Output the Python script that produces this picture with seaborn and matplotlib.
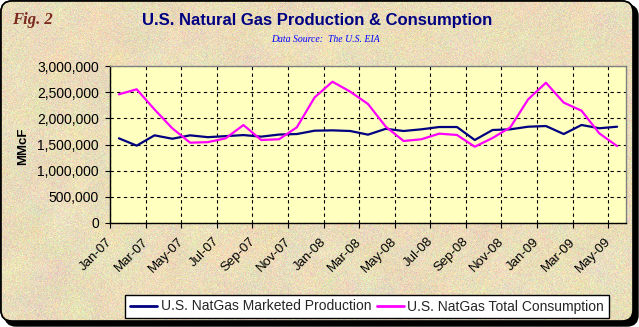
import numpy as np
import pandas as pd
import matplotlib
matplotlib.use("Agg")
import matplotlib.pyplot as plt
import matplotlib.transforms as mtransforms
from matplotlib.patches import FancyBboxPatch
from matplotlib.lines import Line2D
from matplotlib.ticker import FuncFormatter
import seaborn as sns

# Monthly U.S. natural gas figures (MMcF), Jan-07 .. May-09
months = ["Jan-07", "Feb-07", "Mar-07", "Apr-07", "May-07", "Jun-07", "Jul-07", "Aug-07",
          "Sep-07", "Oct-07", "Nov-07", "Dec-07", "Jan-08", "Feb-08", "Mar-08", "Apr-08",
          "May-08", "Jun-08", "Jul-08", "Aug-08", "Sep-08", "Oct-08", "Nov-08", "Dec-08",
          "Jan-09", "Feb-09", "Mar-09", "Apr-09", "May-09"]
production = [1618000, 1478000, 1675000, 1610000, 1675000, 1640000, 1660000, 1680000,
              1650000, 1690000, 1700000, 1764000, 1770000, 1758000, 1688000, 1800000,
              1758000, 1790000, 1834000, 1834000, 1586000, 1777000, 1790000, 1840000,
              1853000, 1700000, 1873000, 1810000, 1840000]
consumption = [2459000, 2555000, 2170000, 1810000, 1535000, 1545000, 1618000, 1872000,
               1586000, 1600000, 1828000, 2400000, 2700000, 2510000, 2274000, 1840000,
               1567000, 1600000, 1707000, 1682000, 1458000, 1624000, 1828000, 2363000,
               2680000, 2300000, 2146000, 1713000, 1470000]
series_names = ["U.S. NatGas Marketed Production", "U.S. NatGas Total Consumption"]
series_colors = ["#000080", "#ff00ff"]
y_ticks = [0, 500000, 1000000, 1500000, 2000000, 2500000, 3000000]

sns.set_theme(style="white")
plt.rcParams['font.family'] = ['Liberation Sans', 'DejaVu Sans']

W, H = 639, 327
fig = plt.figure(figsize=(W / 100, H / 100), dpi=100)
fig.patch.set_facecolor("white")

# ---- card background: shadow, textured fill, rounded border ----
bg = fig.add_axes([0, 0, 1, 1], zorder=0)
bg.set_xlim(0, W)
bg.set_ylim(H, 0)
bg.axis("off")

shadow = FancyBboxPatch((5, 5), 633, 321, boxstyle="round,pad=0,rounding_size=11",
                        fc="black", ec="black", lw=1, zorder=1)
bg.add_patch(shadow)
card = FancyBboxPatch((1, 1), 632, 320, boxstyle="round,pad=0,rounding_size=11",
                      fc="#e8dab8", ec="black", lw=1.2, zorder=2)
bg.add_patch(card)


def upsample(c, h, w):
    ys = np.linspace(0, c.shape[0] - 1, h)
    xs = np.linspace(0, c.shape[1] - 1, w)
    y0 = np.floor(ys).astype(int)
    y1 = np.minimum(y0 + 1, c.shape[0] - 1)
    x0 = np.floor(xs).astype(int)
    x1 = np.minimum(x0 + 1, c.shape[1] - 1)
    wy = (ys - y0)[:, None, None]
    wx = (xs - x0)[None, :, None]
    top = c[y0][:, x0] * (1 - wx) + c[y0][:, x1] * wx
    bot = c[y1][:, x0] * (1 - wx) + c[y1][:, x1] * wx
    return top * (1 - wy) + bot * wy


rng = np.random.default_rng(11)
base = np.array([234, 221, 186], dtype=float)
coarse = upsample(rng.normal(0, 3.5, size=(18, 34, 3)), H, W)
fine = rng.normal(0, 10, size=(H, W, 3))
tex = np.clip(base + coarse + fine, 0, 255).astype(np.uint8)
im = bg.imshow(tex, extent=(0, W, H, 0), zorder=3, interpolation="nearest")
im.set_clip_path(card)
border = FancyBboxPatch((1, 1), 632, 320, boxstyle="round,pad=0,rounding_size=11",
                        fc="none", ec="black", lw=1.2, zorder=4)
bg.add_patch(border)

# ---- plot area ----
ax = fig.add_axes([110 / W, (H - 223) / H, 516 / W, 157 / H], zorder=2)
ax.set_facecolor("#ffffc0")

x = np.arange(len(months))
df = pd.DataFrame({
    "idx": np.concatenate([x, x]),
    "value": production + consumption,
    "series": [series_names[0]] * len(x) + [series_names[1]] * len(x),
})
sns.lineplot(data=df, x="idx", y="value", hue="series",
             palette=dict(zip(series_names, series_colors)),
             linewidth=1.6, ax=ax, legend=False)

ax.set_xlim(-0.5, len(months) - 0.5)
ax.set_ylim(0, 3000000)
ax.set_xlabel("")
ax.set_ylabel("")

ax.set_yticks(y_ticks)
ax.yaxis.set_major_formatter(FuncFormatter(lambda v, p: f"{int(v):,}"))
ax.tick_params(axis="y", left=True, direction="out", length=3.5, width=0.8,
               color="black", pad=4.5, labelsize=10, labelcolor="black")

ax.set_xticks(np.arange(-0.5, len(months) - 1, 2))
ax.set_xticklabels([])
ax.set_xticks(np.arange(0, len(months), 2), minor=True)
ax.set_xticklabels(months[::2], minor=True, rotation=45, ha="right", va="top",
                   fontsize=9.5, color="black")
ax.tick_params(axis="x", which="major", bottom=True, direction="out", length=3.5,
               width=0.8, color="black")
ax.tick_params(axis="x", which="minor", bottom=True, length=0, pad=9)
shift = mtransforms.ScaledTranslation(-4 / 100, 0, fig.dpi_scale_trans)
for lab in ax.get_xticklabels(minor=True):
    lab.set_transform(lab.get_transform() + shift)

ax.grid(True, which="major", axis="both", color="black", linestyle=(0, (3, 3)),
        linewidth=0.8)
for side in ["left", "bottom"]:
    ax.spines[side].set_color("black")
    ax.spines[side].set_linewidth(1)
for side in ["top", "right"]:
    ax.spines[side].set_color("#808080")
    ax.spines[side].set_linewidth(1)

# ---- texts ----
fig.text(317.5 / W, 1 - 21 / H, "U.S. Natural Gas Production & Consumption",
         ha="center", va="center", fontsize=12, fontweight="bold", color="#000080")
fig.text(325 / W, 1 - 39.5 / H, "Data Source:  The U.S. EIA", ha="center", va="center",
         fontsize=7, style="italic", color="#0000ff", family="Liberation Serif")
fig.text(12 / W, 1 - 20 / H, "Fig. 2", ha="left", va="center", fontsize=12,
         style="italic", fontweight="bold", color="#7a2a1e", family="Liberation Serif")
fig.text(23 / W, 1 - 146 / H, "MMcF", ha="center", va="center", rotation=90,
         fontsize=9.5, fontweight="bold", color="black")

# ---- legend ----
handles = [Line2D([0], [0], color=c, lw=2) for c in series_colors]
leg = fig.legend(handles, series_names, loc="center",
                 bbox_to_anchor=(367 / W, 1 - 306.5 / H), ncol=2, fontsize=10,
                 frameon=True, fancybox=False, framealpha=1, facecolor="white",
                 edgecolor="black", handlelength=1.95, handletextpad=0.25,
                 columnspacing=0.4, borderpad=0.35, borderaxespad=0)
leg.get_frame().set_linewidth(1)
leg.set_zorder(5)

fig.savefig("out.png", dpi=100, facecolor=fig.get_facecolor())
